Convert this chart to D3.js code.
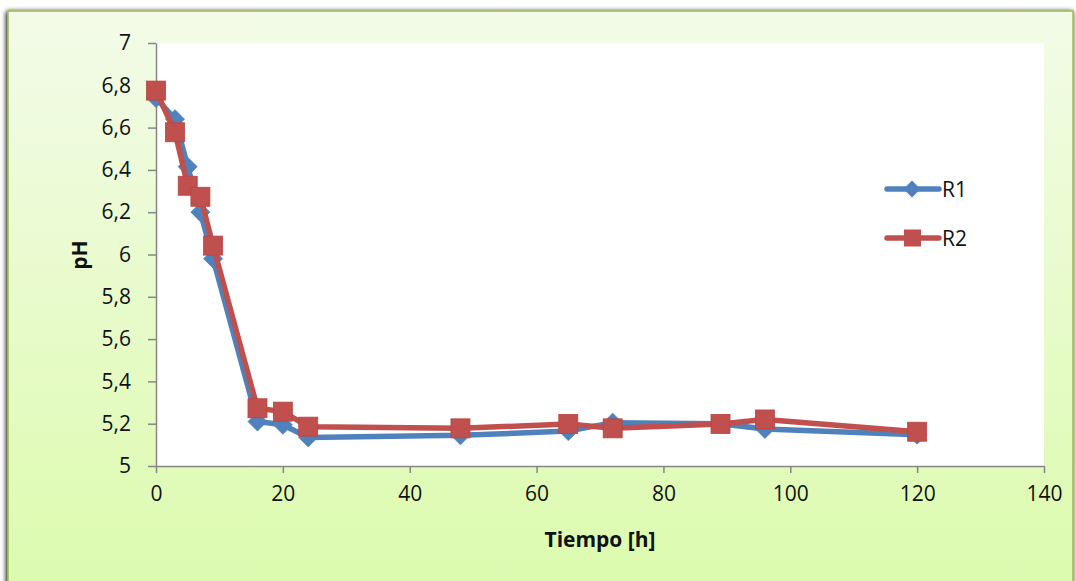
<!DOCTYPE html>
<html>
<head>
<meta charset="utf-8">
<script src="https://cdn.jsdelivr.net/npm/d3@7"></script>
<style>
  html, body { margin: 0; padding: 0; background: #ffffff; }
  svg { display: block; }
  text { font-family: "Open Sans", Lato, "Liberation Sans", sans-serif; fill: #111; }
</style>
</head>
<body>
<svg id="chart" width="1076" height="581"></svg>
<script>
// Sampling times (hours)
const tiempo = [0, 3, 5, 7, 9, 16, 20, 24, 48, 65, 72, 89, 96, 120];
// pH readings per reactor
const phR1 = [6.74, 6.64, 6.415, 6.2, 5.98, 5.21, 5.195, 5.135, 5.145, 5.165, 5.205, 5.2, 5.175, 5.148];
const phR2 = [6.775, 6.578, 6.325, 6.273, 6.042, 5.273, 5.257, 5.186, 5.178, 5.199, 5.178, 5.199, 5.22, 5.162];
const seriesNames = ["R1", "R2"];
const xTicks = [0, 20, 40, 60, 80, 100, 120, 140];
const yTicks = [5, 5.2, 5.4, 5.6, 5.8, 6, 6.2, 6.4, 6.6, 6.8, 7];

const svg = d3.select("#chart");

// Chart frame with soft green vertical gradient
const defs = svg.append("defs");
const grad = defs.append("linearGradient").attr("id", "bg").attr("x1", 0).attr("y1", 0).attr("x2", 0).attr("y2", 1);
grad.append("stop").attr("offset", "0%").attr("stop-color", "#f3fbe8");
grad.append("stop").attr("offset", "100%").attr("stop-color", "#dbfbab");

const shadow = defs.append("filter").attr("id", "sh").attr("x", "-5%").attr("y", "-5%").attr("width", "110%").attr("height", "110%");
shadow.append("feGaussianBlur").attr("in", "SourceAlpha").attr("stdDeviation", 2.5);
shadow.append("feOffset").attr("dx", -1).attr("dy", 1).attr("result", "b");
const merge = shadow.append("feMerge");
merge.append("feMergeNode").attr("in", "b");
merge.append("feMergeNode").attr("in", "SourceGraphic");

svg.append("rect")
  .attr("x", 8).attr("y", 11).attr("width", 1065).attr("height", 600)
  .attr("fill", "url(#bg)")
  .attr("stroke", "#9bbb59").attr("stroke-width", 1.5)
  .attr("filter", "url(#sh)");

// Scales
const x = d3.scaleLinear().domain([0, 140]).range([156, 1044]);
const y = d3.scaleLinear().domain([5, 7]).range([466, 43]);

// Plot area
svg.append("rect")
  .attr("x", x(0)).attr("y", y(7))
  .attr("width", x(140) - x(0)).attr("height", y(5) - y(7))
  .attr("fill", "#ffffff");

const fmt = d => String(d).replace(".", ",");

// Y axis
const yAxis = svg.append("g")
  .attr("transform", `translate(${x(0)},0)`)
  .call(d3.axisLeft(y).tickValues(yTicks).tickFormat(fmt).tickSize(8).tickSizeOuter(0).tickPadding(17));
yAxis.select(".domain").attr("stroke", "#868686").attr("stroke-width", 1.5);
yAxis.selectAll(".tick line").attr("stroke", "#868686").attr("stroke-width", 1.5);
yAxis.selectAll(".tick text").attr("font-size", 21).attr("fill", "#111")
  .attr("font-family", "'Open Sans', Lato, sans-serif");

// X axis
const xAxis = svg.append("g")
  .attr("transform", `translate(0,${y(5)})`)
  .call(d3.axisBottom(x).tickValues(xTicks).tickFormat(fmt).tickSize(7).tickSizeOuter(0).tickPadding(13));
xAxis.select(".domain").attr("stroke", "#868686").attr("stroke-width", 1.5);
xAxis.selectAll(".tick line").attr("stroke", "#868686").attr("stroke-width", 1.5);
xAxis.selectAll(".tick text").attr("font-size", 21).attr("fill", "#111")
  .attr("font-family", "'Open Sans', Lato, sans-serif");

// Axis titles
svg.append("text")
  .attr("x", 600).attr("y", 547)
  .attr("text-anchor", "middle")
  .attr("font-size", 21).attr("font-weight", "bold")
  .text("Tiempo [h]");

svg.append("text")
  .attr("transform", "translate(87,255) rotate(-90)")
  .attr("text-anchor", "middle")
  .attr("font-size", 21).attr("font-weight", "bold")
  .text("pH");

// Series
const series = [
  { name: seriesNames[0], values: phR1, color: "#4f81bd", marker: "diamond" },
  { name: seriesNames[1], values: phR2, color: "#c0504d", marker: "square" }
];

const line = d3.line().x(d => x(d.t)).y(d => y(d.v));

function drawMarker(g, type, cx, cy, color) {
  if (type === "square") {
    g.append("rect")
      .attr("x", cx - 9.5).attr("y", cy - 9.5)
      .attr("width", 19).attr("height", 19)
      .attr("fill", color).attr("stroke", "#b8443f").attr("stroke-width", 0.8);
  } else {
    const s = 9.5;
    g.append("path")
      .attr("d", `M${cx},${cy - s}L${cx + s},${cy}L${cx},${cy + s}L${cx - s},${cy}Z`)
      .attr("fill", color).attr("stroke", color).attr("stroke-width", 0.8);
  }
}

series.forEach(s => {
  const pts = tiempo.map((t, i) => ({ t, v: s.values[i] }));
  const g = svg.append("g");
  g.append("path")
    .datum(pts)
    .attr("d", line)
    .attr("fill", "none")
    .attr("stroke", s.color)
    .attr("stroke-width", 5.5)
    .attr("stroke-linejoin", "round")
    .attr("stroke-linecap", "round");
  pts.forEach(p => drawMarker(g, s.marker, x(p.t), y(p.v), s.color));
});

// Legend
const legendY = [189, 238];
series.forEach((s, i) => {
  const g = svg.append("g");
  const ly = legendY[i];
  g.append("line")
    .attr("x1", 887).attr("x2", 939).attr("y1", ly).attr("y2", ly)
    .attr("stroke", s.color).attr("stroke-width", 5.5).attr("stroke-linecap", "round");
  if (s.marker === "square") {
    g.append("rect").attr("x", 904).attr("y", ly - 8.5).attr("width", 17).attr("height", 17).attr("fill", s.color);
  } else {
    const c = 912, r = 8.5;
    g.append("path").attr("d", `M${c},${ly - r}L${c + r},${ly}L${c},${ly + r}L${c - r},${ly}Z`).attr("fill", s.color);
  }
  g.append("text")
    .attr("x", 942).attr("y", ly + 7.5)
    .attr("font-size", 21)
    .text(s.name);
});
</script>
</body>
</html>
